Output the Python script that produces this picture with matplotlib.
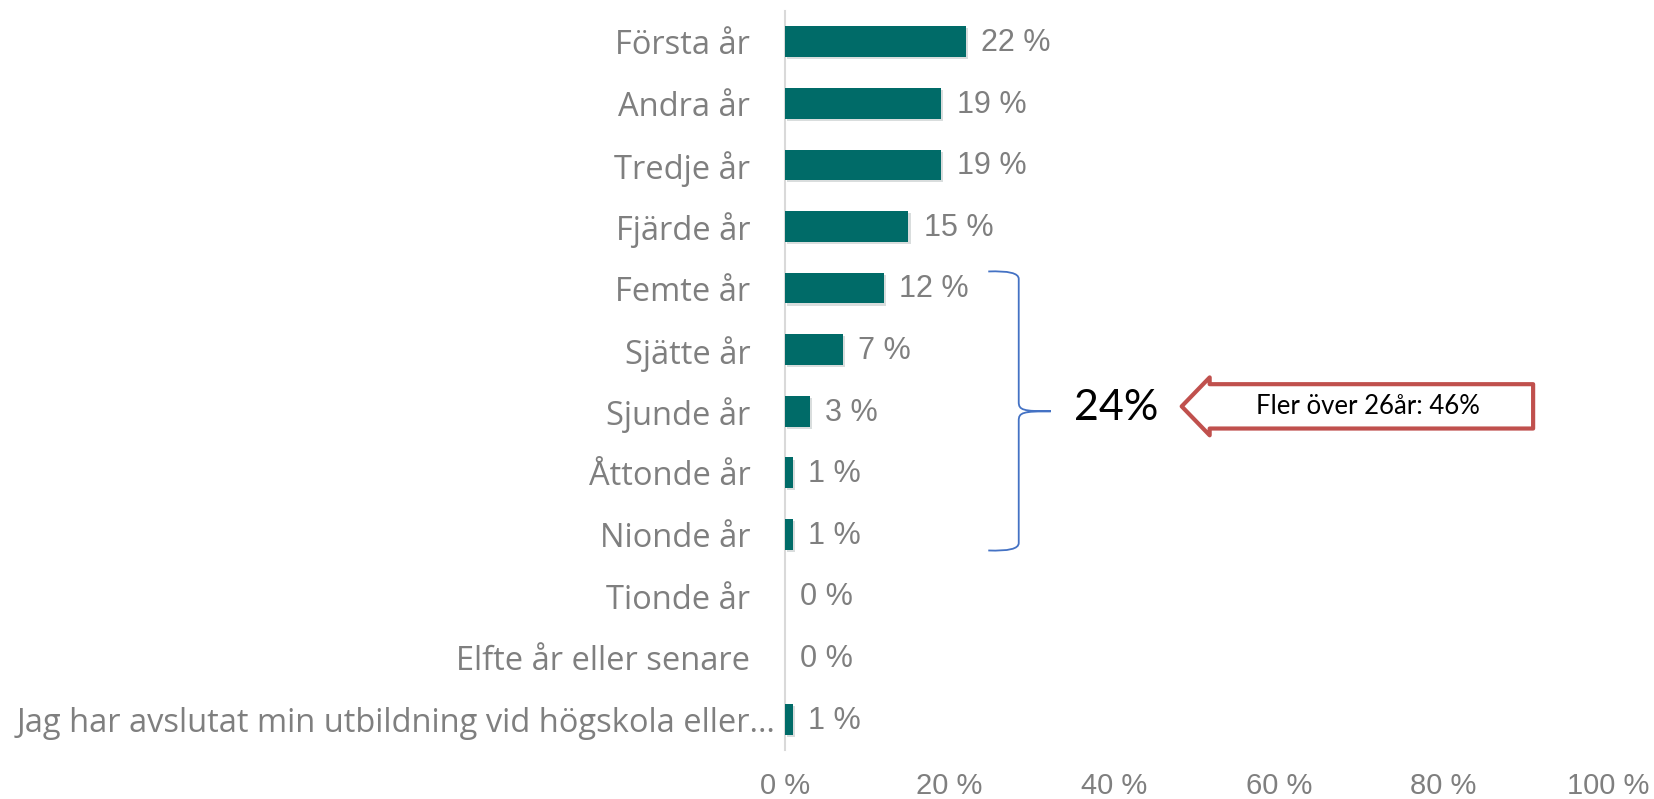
import matplotlib
matplotlib.use("Agg")
import matplotlib.pyplot as plt
import matplotlib.patheffects as pe
from matplotlib.path import Path
from matplotlib.patches import PathPatch, Polygon
from matplotlib.transforms import ScaledTranslation

# -------------------------------------------------------------------------
# Data
# -------------------------------------------------------------------------
categories = [
    "Första år", "Andra år", "Tredje år", "Fjärde år", "Femte år", "Sjätte år",
    "Sjunde år", "Åttonde år", "Nionde år", "Tionde år", "Elfte år eller senare",
    "Jag har avslutat min utbildning vid högskola eller…",
]
values = [22, 19, 19, 15, 12, 7, 3, 1, 1, 0, 0, 1]
xticks = [0, 20, 40, 60, 80, 100]
brace_rows = (4, 8)       # Femte år .. Nionde år
brace_text = "24%"
arrow_text = "Fler över 26år: 46%"

bar_color = "#006B68"
gray = "#7F7F7F"

fig = plt.figure(figsize=(16.54, 7.99), dpi=100)
ax = fig.add_axes([0.4746, 0.0613, 0.4976, 0.925])

y = list(range(len(categories)))
bars = ax.barh(y, values, height=0.5, color=bar_color, zorder=3)
for b in bars:
    b.set_path_effects([pe.SimplePatchShadow(offset=(1.5, -1.5), alpha=0.15), pe.Normal()])

for i, v in enumerate(values):
    ax.annotate(f"{v} %", xy=(v, i), xytext=(11, -1), textcoords="offset points",
                va="center", ha="left", fontsize=22, color=gray,
                family=["Liberation Sans", "DejaVu Sans"])

ax.set_xlim(0, 100)
ax.set_ylim(len(categories) - 0.5, -0.5)
ax.set_xticks(xticks)
ax.set_xticklabels([f"{t} %" for t in xticks], fontsize=21, color=gray,
                   family=["Liberation Sans", "DejaVu Sans"])
ax.set_yticks(y)
ax.set_yticklabels(categories, fontsize=23.5, color=gray,
                   family=["Open Sans", "DejaVu Sans"])
ax.tick_params(axis="x", length=0, pad=16)
ax.tick_params(axis="y", length=0, pad=25)
for s in ["top", "right", "bottom"]:
    ax.spines[s].set_visible(False)
ax.spines["left"].set_color("#D9D9D9")
ax.spines["left"].set_linewidth(1.5)

# last label sits a bit closer to the axis
lbl = ax.get_yticklabels()[-1]
lbl.set_transform(lbl.get_transform() + ScaledTranslation(18 / 72, 0, fig.dpi_scale_trans))

# -------------------------------------------------------------------------
# Curly brace and arrow callout
# -------------------------------------------------------------------------
top = brace_rows[0] - 0.27
bot = brace_rows[1] + 0.26
mid = (brace_rows[0] + brace_rows[1]) / 2
xl, xh, xt = 24.7, 28.4, 32.3
verts = [
    (xl, top), (xh, top - 0.02), (xh, top + 0.12),
    (xh, mid - 0.15),
    (xh, mid - 0.02), (xh + 0.5, mid), (xt, mid),
    (xh + 0.5, mid), (xh, mid + 0.02), (xh, mid + 0.15),
    (xh, bot - 0.12),
    (xh, bot + 0.02), (xl, bot),
]
codes = [Path.MOVETO, Path.CURVE3, Path.CURVE3,
         Path.LINETO,
         Path.CURVE4, Path.CURVE4, Path.CURVE4,
         Path.CURVE4, Path.CURVE4, Path.CURVE4,
         Path.LINETO,
         Path.CURVE3, Path.CURVE3]
ax.add_patch(PathPatch(Path(verts, codes), fill=False, edgecolor="#4472C4",
                       linewidth=1.3, zorder=4))

ax.text(40.3, mid - 0.05, brace_text, ha="center", va="center", fontsize=31,
        color="black", family=["Lato", "DejaVu Sans"])

amid = mid - 0.08
arrow = Polygon([(48.2, amid), (51.6, amid - 0.47), (51.6, amid - 0.36),
                 (90.9, amid - 0.36), (90.9, amid + 0.36), (51.6, amid + 0.36),
                 (51.6, amid + 0.47)],
                closed=True, facecolor="white", edgecolor="#C0504D",
                linewidth=3, joinstyle="round", zorder=4)
ax.add_patch(arrow)
ax.text(70.8, amid, arrow_text, ha="center", va="center", fontsize=18.5,
        color="black", family=["Lato", "DejaVu Sans"], zorder=5)

fig.savefig("out.png", dpi=100)
